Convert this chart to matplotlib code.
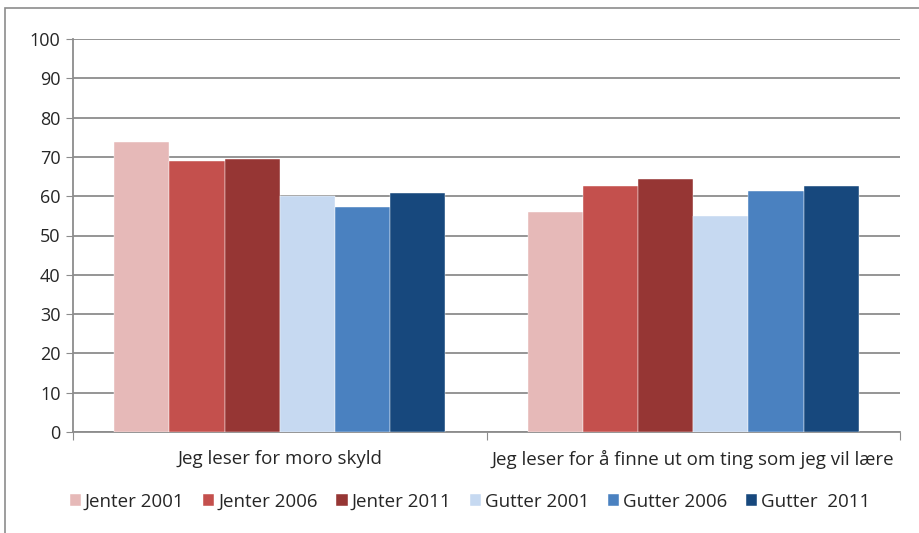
import numpy as np
import matplotlib.pyplot as plt
from matplotlib.patches import Rectangle

plt.rcParams['font.family'] = ['Open Sans', 'DejaVu Sans']
plt.rcParams['text.color'] = '#262626'
plt.rcParams['xtick.labelcolor'] = '#262626'
plt.rcParams['ytick.labelcolor'] = '#262626'

categories = ["Jeg leser for moro skyld",
              "Jeg leser for å finne ut om ting som jeg vil lære"]
series = ["Jenter 2001", "Jenter 2006", "Jenter 2011",
          "Gutter 2001", "Gutter 2006", "Gutter  2011"]
values = [
    [73.8, 56.1],
    [69.0, 62.6],
    [69.4, 64.5],
    [60.0, 55.0],
    [57.3, 61.2],
    [60.7, 62.5],
]
colors = ["#E6B9B8", "#C4504D", "#963634", "#C6D9F1", "#4A81C0", "#17487D"]
yticks = list(range(0, 101, 10))

fig = plt.figure(figsize=(9.19, 5.33), dpi=100)
ax = fig.add_axes([73 / 919, 1 - 432 / 533, 827 / 919, 393 / 533])

# outer frame of the chart area (cropped on right/bottom)
fig.patches.append(Rectangle((5 / 919, -0.1), 1.2, (1 - 8 / 533) + 0.1,
                             transform=fig.transFigure, fill=False,
                             edgecolor="#8c8c8c", linewidth=1.2))

x = np.arange(len(categories))
n = len(series)
width = 0.8 / n
for i, (name, vals) in enumerate(zip(series, values)):
    offs = (i - (n - 1) / 2) * width
    ax.bar(x + offs, vals, width, color=colors[i], label=name, zorder=3,
           edgecolor="white", linewidth=0.3)

ax.set_xlim(-0.5, len(categories) - 0.5)
ax.set_ylim(0, 100)
ax.set_yticks(yticks)
ax.tick_params(axis="y", length=5, color="#8c8c8c", labelsize=13, pad=4)
ax.yaxis.grid(True, color="#8c8c8c", linewidth=1.3, zorder=0)
ax.set_axisbelow(True)

# category boundaries as ticks, labels at centers
ax.set_xticks(np.arange(-0.5, len(categories), 1.0))
ax.set_xticklabels([])
ax.set_xticks(x, minor=True)
ax.set_xticklabels(categories, minor=True)
ax.tick_params(axis="x", which="major", length=6, color="#8c8c8c", direction="out")
ax.tick_params(axis="x", which="minor", length=0, labelsize=13.5, pad=13)

for s in ["top", "right"]:
    ax.spines[s].set_visible(False)
for s in ["left", "bottom"]:
    ax.spines[s].set_color("#8c8c8c")
    ax.spines[s].set_linewidth(1.3)

fig.legend(loc="center", bbox_to_anchor=(470 / 919, 1 - 502 / 533), ncol=6,
           frameon=False, fontsize=13.5, handlelength=0.6, handleheight=0.6,
           handletextpad=0.2, columnspacing=1.0)

fig.savefig("out.png", dpi=100)
